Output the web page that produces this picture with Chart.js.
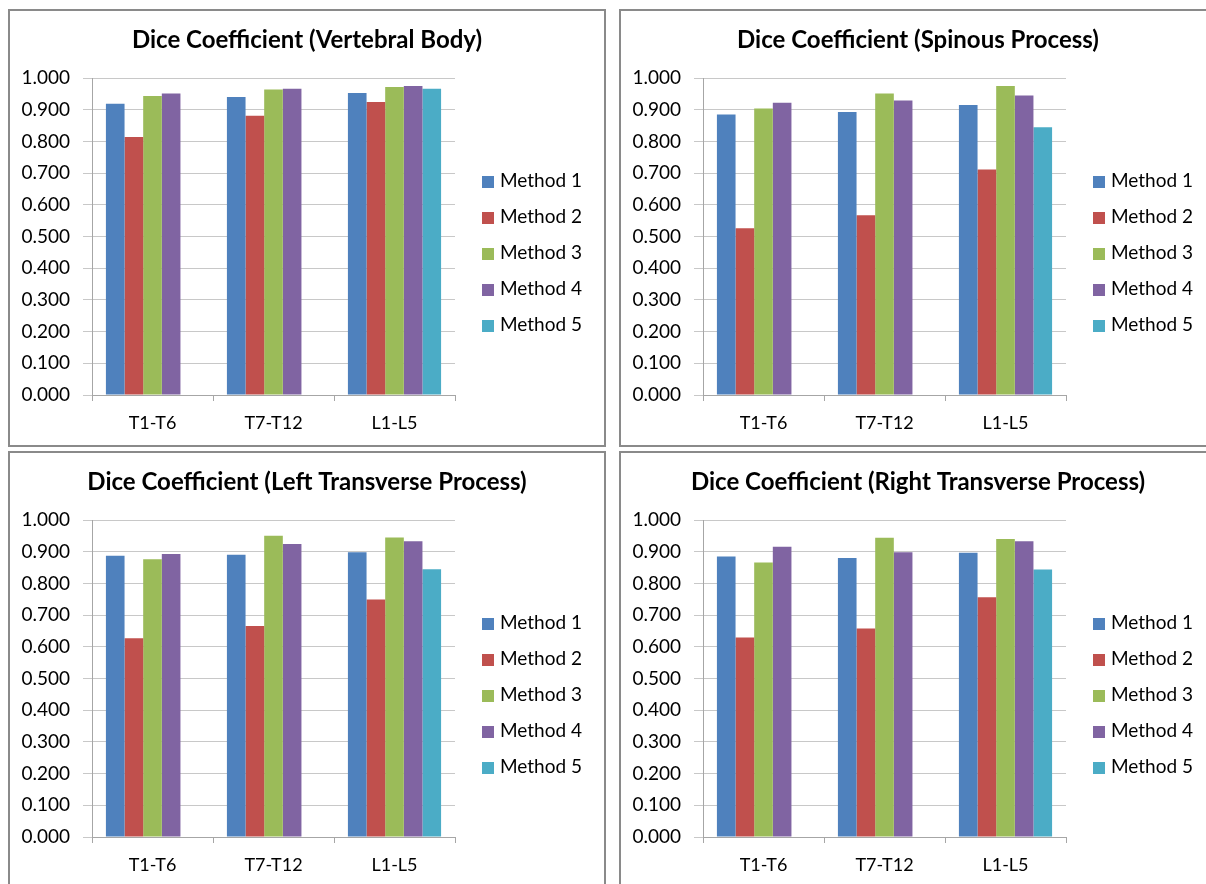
<!DOCTYPE html>
<html>
<head>
<meta charset="utf-8">
<script src="https://cdn.jsdelivr.net/npm/chart.js@4.4.1/dist/chart.umd.min.js"></script>
<style>
  html, body { margin: 0; padding: 0; background: #fff; overflow: hidden; }
  body { width: 1206px; height: 884px; position: relative; font-family: Lato, sans-serif; }
  .panel {
    position: absolute; box-sizing: border-box;
    width: 598px; height: 438px;
    border: 2px solid #8a8a8a; background: #fff;
  }
  .panel canvas { position: absolute; left: 0; top: 0; }
  .legend-list { position: absolute; left: 472px; top: 160px; margin: 0; padding: 0; list-style: none; }
  .legend-list li { height: 36px; line-height: 18px; font-size: 19px; color: #000; white-space: nowrap; }
  .legend-list span { display: inline-block; width: 12px; height: 12px; margin-right: 6px; vertical-align: -1px; }
</style>
</head>
<body>
<div class="panel" style="left:8px;top:9px"><canvas id="chart-body"></canvas><div id="legend-body"></div></div>
<div class="panel" style="left:619px;top:9px"><canvas id="chart-spinous"></canvas><div id="legend-spinous"></div></div>
<div class="panel" style="left:8px;top:451px"><canvas id="chart-left"></canvas><div id="legend-left"></div></div>
<div class="panel" style="left:619px;top:451px"><canvas id="chart-right"></canvas><div id="legend-right"></div></div>
<script>
const categories = ['T1-T6', 'T7-T12', 'L1-L5']
const methods = ['Method 1', 'Method 2', 'Method 3', 'Method 4', 'Method 5']
const methodColors = ['#4F81BD', '#C0504D', '#9BBB59', '#8064A2', '#4BACC6']

// one row per method, values per category (null = no bar)
const vertebralBody = [
  [0.919, 0.940, 0.953],
  [0.814, 0.881, 0.924],
  [0.943, 0.964, 0.972],
  [0.951, 0.966, 0.975],
  [null, null, 0.966]
]
const spinousProcess = [
  [0.885, 0.893, 0.915],
  [0.526, 0.567, 0.711],
  [0.904, 0.951, 0.975],
  [0.922, 0.929, 0.945],
  [null, null, 0.845]
]
const leftTransverse = [
  [0.887, 0.890, 0.898],
  [0.627, 0.666, 0.749],
  [0.876, 0.950, 0.945],
  [0.893, 0.924, 0.933],
  [null, null, 0.845]
]
const rightTransverse = [
  [0.885, 0.880, 0.897],
  [0.629, 0.658, 0.756],
  [0.866, 0.944, 0.940],
  [0.916, 0.898, 0.933],
  [null, null, 0.844]
]
const yTicks = [0, 0.1, 0.2, 0.3, 0.4, 0.5, 0.6, 0.7, 0.8, 0.9, 1.0]

const panels = [
  { id: 'body', title: 'Dice Coefficient (Vertebral Body)', values: vertebralBody },
  { id: 'spinous', title: 'Dice Coefficient (Spinous Process)', values: spinousProcess },
  { id: 'left', title: 'Dice Coefficient (Left Transverse Process)', values: leftTransverse },
  { id: 'right', title: 'Dice Coefficient (Right Transverse Process)', values: rightTransverse }
]

const axisGray = '#a6a6a6'
const gridGray = '#c8c8c8'

function buildLegend (chart) {
  const text = []
  text.push("<ul class='legend-list'>")
  chart.data.datasets.forEach(ds => {
    text.push('<li><span style="background-color:' + ds.backgroundColor + '"></span>' + ds.label + '</li>')
  })
  text.push('</ul>')
  return text.join('')
}

panels.forEach(panel => {
  const canvas = document.getElementById('chart-' + panel.id)
  canvas.width = 594
  canvas.height = 434
  canvas.style.width = '594px'
  canvas.style.height = '434px'

  const chart = new Chart(canvas, {
    type: 'bar',
    data: {
      labels: categories,
      datasets: methods.map((name, i) => ({
        label: name,
        data: panel.values[i],
        backgroundColor: methodColors[i],
        borderWidth: 0,
        categoryPercentage: 0.77,
        barPercentage: 1.0
      }))
    },
    options: {
      responsive: false,
      animation: false,
      devicePixelRatio: 1,
      plugins: {
        legend: { display: false },
        tooltip: { enabled: false },
        title: {
          display: true,
          text: panel.title,
          color: '#000',
          font: { family: 'Lato', size: 24, weight: 'bold', lineHeight: 1.2 },
          padding: { top: 15, bottom: 23.2 }
        }
      },
      scales: {
        x: {
          afterFit: scale => { scale.height = 50 },
          grid: { drawOnChartArea: false, offset: true, tickLength: 6, color: axisGray },
          border: { color: axisGray },
          ticks: { color: '#000', font: { family: 'Lato', size: 18 }, padding: 11, maxRotation: 0 }
        },
        y: {
          min: 0,
          max: 1,
          afterFit: scale => { scale.width = 82 },
          afterBuildTicks: scale => { scale.ticks = yTicks.map(v => ({ value: v })) },
          grid: { color: gridGray, tickLength: 9, tickColor: gridGray },
          border: { color: axisGray },
          ticks: {
            color: '#000',
            font: { family: 'Lato', size: 19 },
            padding: 13,
            callback: v => Number(v).toFixed(3)
          }
        },
        // empty strip on the right that leaves room for the legend
        legendSpace: {
          position: 'right',
          min: 0,
          max: 1,
          afterFit: scale => { scale.width = 149 },
          grid: { display: false },
          border: { display: false },
          ticks: { display: false }
        }
      }
    }
  })

  document.getElementById('legend-' + panel.id).innerHTML = buildLegend(chart)
})
</script>
</body>
</html>
